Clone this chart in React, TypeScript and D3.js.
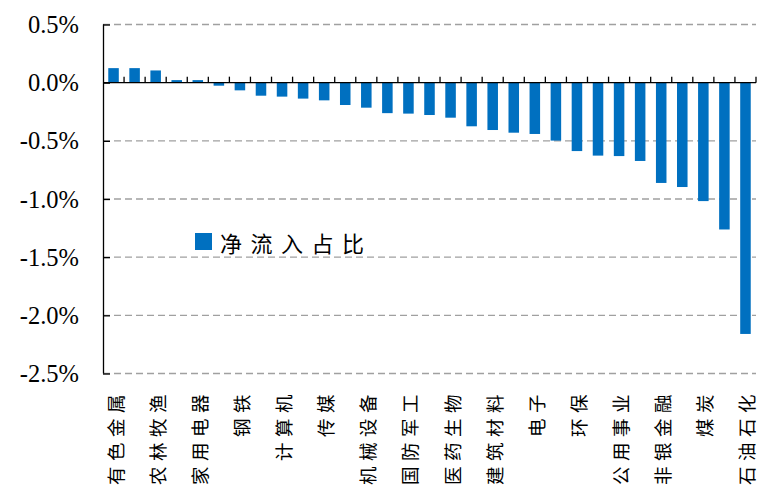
import { useEffect, useRef } from "react";
import * as d3 from "d3";

// 31 industries, only every other one is labelled on the axis
const categories = [
  "有色金属", "", "农林牧渔", "", "家用电器", "", "钢铁", "", "计算机", "", "传媒",
  "", "机械设备", "", "国防军工", "", "医药生物", "", "建筑材料", "", "电子", "",
  "环保", "", "公用事业", "", "非银金融", "", "煤炭", "", "石油石化",
];

// net inflow share, %
const values = [
  0.125, 0.125, 0.105, 0.022, 0.022, -0.026, -0.066, -0.112, -0.12, -0.137, -0.152,
  -0.192, -0.215, -0.262, -0.266, -0.278, -0.301, -0.375, -0.407, -0.43, -0.441,
  -0.498, -0.588, -0.627, -0.631, -0.673, -0.862, -0.897, -1.018, -1.262, -2.16,
];

const yTicks = [0.5, 0, -0.5, -1.0, -1.5, -2.0, -2.5];
const seriesName = "净流入占比";

export default function App() {
  const width = 765;
  const height = 492;
  const marginTop = 24.5;
  const marginBottom = 118.5;
  const marginLeft = 103;
  const marginRight = 9;
  const ref = useRef<SVGSVGElement>(null);

  useEffect(() => {
    const svg = d3.select(ref.current);
    svg.selectAll("*").remove();

    const idx = categories.map((_, i) => i);
    const band = d3
      .scaleBand<number>()
      .domain(idx)
      .range([marginLeft, width - marginRight])
      .paddingInner(0.5)
      .paddingOuter(0.25);
    const step = band.step();

    const y = d3
      .scaleLinear()
      .domain([-2.5, 0.5])
      .range([height - marginBottom, marginTop]);

    // dashed gridlines
    svg
      .append("g")
      .selectAll("line")
      .data(yTicks.filter((t) => t !== 0))
      .join("line")
      .attr("x1", marginLeft)
      .attr("x2", width - marginRight)
      .attr("y1", (d) => y(d))
      .attr("y2", (d) => y(d))
      .attr("stroke", "#a0a0a0")
      .attr("stroke-width", 1.3)
      .attr("stroke-dasharray", "7,4");

    // bars
    svg
      .append("g")
      .selectAll("rect")
      .data(values)
      .join("rect")
      .attr("x", (_, i) => band(i)!)
      .attr("width", band.bandwidth())
      .attr("y", (d) => y(Math.max(0, d)))
      .attr("height", (d) => Math.abs(y(d) - y(0)))
      .attr("fill", "#0070C0");

    // y axis
    const yAxis = svg
      .append("g")
      .attr("transform", `translate(${marginLeft},0)`)
      .call(
        d3
          .axisRight(y)
          .tickValues(yTicks)
          .tickSize(7)
          .tickFormat(() => ""),
      );
    yAxis.select(".domain").attr("stroke", "#000").attr("stroke-width", 1.3).attr("d", `M0.5,${y(0.5)}V${y(-2.5)}`);
    yAxis.selectAll(".tick line").attr("stroke", "#000").attr("stroke-width", 1.3);

    svg
      .append("g")
      .selectAll("text")
      .data(yTicks)
      .join("text")
      .attr("x", 79)
      .attr("y", (d) => y(d))
      .attr("text-anchor", "end")
      .attr("dominant-baseline", "central")
      .style("font-family", "Liberation Serif, DejaVu Serif, serif")
      .style("font-size", "24.5px")
      .attr("fill", "#000")
      .text((d) => `${d.toFixed(1)}%`);

    // x axis at zero with upward ticks at band boundaries
    const y0 = y(0);
    const bounds = d3.range(categories.length + 1).map((k) => marginLeft + k * step);
    svg
      .append("line")
      .attr("x1", marginLeft)
      .attr("x2", width - marginRight)
      .attr("y1", y0)
      .attr("y2", y0)
      .attr("stroke", "#000")
      .attr("stroke-width", 1.3);
    svg
      .append("g")
      .selectAll("line")
      .data(bounds.slice(1))
      .join("line")
      .attr("x1", (d) => d)
      .attr("x2", (d) => d)
      .attr("y1", y0)
      .attr("y2", y0 - 6)
      .attr("stroke", "#000")
      .attr("stroke-width", 1.3);

    // category labels, rotated
    svg
      .append("g")
      .selectAll("text")
      .data(categories)
      .join("text")
      .attr("transform", (_, i) => `translate(${band(i)! + band.bandwidth() / 2 + 1},389) rotate(-90)`)
      .attr("text-anchor", "end")
      .attr("dominant-baseline", "central")
      .style("font-family", "Noto Sans CJK SC, sans-serif")
      .style("font-size", "18.5px")
      .attr("letter-spacing", 5.5)
      .attr("fill", "#000")
      .text((d) => d);

    // legend
    const lg = svg.append("g").attr("transform", "translate(195,233)");
    lg.append("rect").attr("width", 17).attr("height", 17).attr("fill", "#0070C0");
    lg.append("text")
      .attr("x", 25)
      .attr("y", 9)
      .attr("dominant-baseline", "central")
      .style("font-family", "Noto Sans CJK SC, sans-serif")
      .style("font-size", "22px")
      .attr("letter-spacing", 8.5)
      .attr("fill", "#000")
      .text(seriesName);
  }, []);

  return (
    <svg
      ref={ref}
      width={width}
      height={height}
      style={{ position: "absolute", left: 0, top: 0, background: "#fff" }}
    />
  );
}
